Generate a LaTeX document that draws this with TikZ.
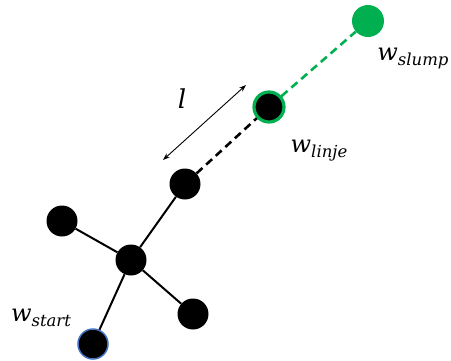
\documentclass[tikz,border=0pt]{standalone}
\usepackage{fontspec}
\usetikzlibrary{arrows.meta}
\newfontfamily\labelfont{DejaVu Serif}
\definecolor{walkgreen}{HTML}{00B050}
\definecolor{startblue}{HTML}{4472C4}
% italic symbol with a lowered italic subscript
\newcommand{\wsub}[1]{{\fontsize{24}{26}\selectfont\itshape w}\raisebox{-5pt}{\fontsize{16.5}{18}\selectfont\itshape #1}}
\begin{document}
\begin{tikzpicture}[x=1pt,y=1pt,
  vertex/.style={circle,fill=black,minimum size=31pt,inner sep=0pt},
  edge/.style={line width=2pt},
  dashedge/.style={line width=2.6pt,dash pattern=on 8pt off 5pt},
  lab/.style={font=\labelfont,inner sep=0pt}]
\useasboundingbox (0,0) rectangle (451,-360);
% polymer-like chain of vertices
\node[vertex] (c) at (131,-260) {};
\node[vertex] (tl) at (62,-221) {};
\node[vertex] (br) at (193,-314) {};
\node[vertex] (up) at (185,-184) {};
\node[vertex,draw=startblue,line width=1.5pt,minimum size=30pt] (st) at (93,-344) {};
\node[vertex,draw=walkgreen,line width=3.2pt,minimum size=30pt] (li) at (269,-107) {};
\node[vertex,fill=walkgreen,minimum size=32pt] (sl) at (368,-21) {};
\draw[edge] (c) -- (tl);
\draw[edge] (c) -- (br);
\draw[edge] (c) -- (up);
\draw[edge] (c) -- (st);
\draw[dashedge] (up) -- (li);
\draw[dashedge,walkgreen] (li) -- (sl);
% step length
\coordinate (la) at (163,-160);
\coordinate (lb) at (246,-85);
\draw[line width=0.9pt,{Stealth[length=7pt,width=5pt]}-{Stealth[length=7pt,width=5pt]}] (la) -- (lb);
\node[lab] (l) at (182,-99) {\fontsize{26}{28}\selectfont\itshape l};
% labels
\node[lab] (ws) at (41,-318) {\wsub{start}};
\node[lab] (wl) at (319,-151) {\wsub{linje}};
\node[lab] (wsl) at (413,-58) {\wsub{slump}};
\end{tikzpicture}
\end{document}
